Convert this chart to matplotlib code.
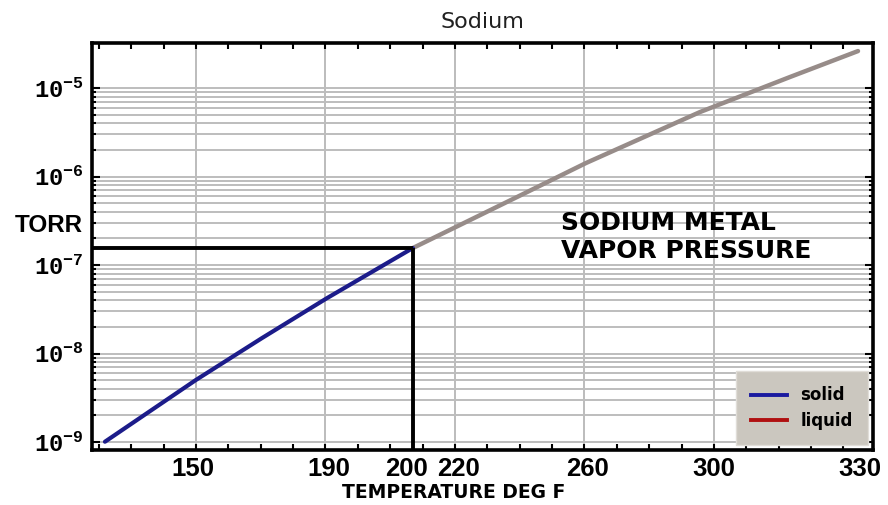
import matplotlib
matplotlib.use("Agg")
import matplotlib.pyplot as plt
import numpy as np
from matplotlib.lines import Line2D
from matplotlib.ticker import FixedLocator, MultipleLocator, NullFormatter

# temperature axis (linear, gridlines every 40 deg) and log10 of vapour pressure (torr)
solid_T = [121.9, 150.0, 170.3, 190.4, 217.0]
solid_logP = [-8.997, -8.299, -7.828, -7.376, -6.808]
liquid_T = [217.0, 230.3, 250.1, 270.5, 305.7, 333.5, 354.5]
liquid_logP = [-6.808, -6.570, -6.215, -5.847, -5.271, -4.875, -4.582]

grid_T = [150, 190, 230, 270, 310]
xtick_pos = [149, 191, 215, 231, 271, 310, 355]
xtick_labels = ["150", "190", "200", "220", "260", "300", "330"]
decades = [-9, -8, -7, -6, -5]

plt.rcParams['mathtext.fontset'] = 'custom'
plt.rcParams['mathtext.rm'] = 'Liberation Mono:bold'
plt.rcParams['mathtext.it'] = 'Liberation Mono:bold'
plt.rcParams['mathtext.bf'] = 'Liberation Mono:bold'

fig = plt.figure(figsize=(8.88, 5.05), dpi=100)
ax = fig.add_axes([0.1036, 0.109, 0.8794, 0.806])

solid_P = 10.0 ** np.array(solid_logP)
liquid_P = 10.0 ** np.array(liquid_logP)

ax.set_yscale('log')
ax.set_xlim(117.9, 359.1)
ax.set_ylim(10 ** -9.09, 10 ** -4.49)

# grid
minor_y = [m * 10.0 ** d for d in decades[:-1] for m in range(2, 10)]
ax.yaxis.set_major_locator(FixedLocator([10.0 ** d for d in decades]))
ax.yaxis.set_minor_locator(FixedLocator(minor_y))
ax.yaxis.set_minor_formatter(NullFormatter())
ax.set_yticklabels([r"$10^{%d}$" % d for d in decades], fontsize=17)
ax.grid(True, which='both', axis='y', color='#bdbdbd', linewidth=1.4)
ax.vlines(grid_T, 10 ** -9.09, 10 ** -4.49, color='#b0b0b0', linewidth=1.2, zorder=0.5)

ax.plot(liquid_T, liquid_P, color='#978c89', linewidth=3.2, solid_capstyle='round',
        solid_joinstyle='round', zorder=3)
ax.plot(solid_T, solid_P, color='#1c1c8a', linewidth=3.0, solid_capstyle='round',
        solid_joinstyle='round', zorder=3)

# melting point marker lines
ax.hlines(solid_P[-1], 117.9, solid_T[-1], color='black', linewidth=2.8, zorder=4)
ax.vlines(solid_T[-1], 10 ** -9.09, solid_P[-1], color='black', linewidth=2.8, zorder=4)

# x ticks: minor marks every 10, labels placed as text
ax.xaxis.set_major_locator(FixedLocator([]))
ax.xaxis.set_minor_locator(MultipleLocator(10))
ax.tick_params(axis='both', which='both', direction='in', top=True, right=True,
               width=1.5, color='black')
ax.tick_params(axis='x', which='minor', length=4)
ax.tick_params(axis='y', which='major', length=6, pad=6)
ax.tick_params(axis='y', which='minor', length=3)
for s in ax.spines.values():
    s.set_linewidth(2.6)

tr = ax.get_xaxis_transform()
for p, lab in zip(xtick_pos, xtick_labels):
    ax.text(p, -0.018, lab, transform=tr, ha='center', va='top', fontsize=18.5,
            fontweight='bold', family='Liberation Sans')

ax.text(0.4635, -0.105, "TEMPERATURE DEG F", transform=ax.transAxes, ha='center',
        va='center', fontsize=13.5, fontweight='bold', family='DejaVu Sans')
ax.set_title("Sodium", fontsize=16, color='#202020', pad=11, family='DejaVu Sans')
fig.text(0.055, 1 - 225 / 505, "TORR", ha='center', va='center', fontsize=17.5,
         fontweight='bold', family='Liberation Sans')

ax.text(0.6, 0.523, "SODIUM METAL\nVAPOR PRESSURE", transform=ax.transAxes,
        ha='left', va='center', fontsize=18, fontweight='bold',
        family='DejaVu Sans', linespacing=1.2)

handles = [Line2D([], [], color='#1a1aa0', linewidth=2.8),
           Line2D([], [], color='#b01010', linewidth=2.8)]
leg = ax.legend(handles, ['solid', 'liquid'], loc='lower right', fontsize=12,
                frameon=True, fancybox=False, borderaxespad=0.3,
                handlelength=2.2, labelspacing=0.45, borderpad=0.9)
leg.get_frame().set_facecolor('#cbc7bf')
leg.get_frame().set_edgecolor('#e0ddd8')
leg.get_frame().set_alpha(1)
for t in leg.get_texts():
    t.set_fontweight('bold')

fig.savefig("out.png", dpi=100)
